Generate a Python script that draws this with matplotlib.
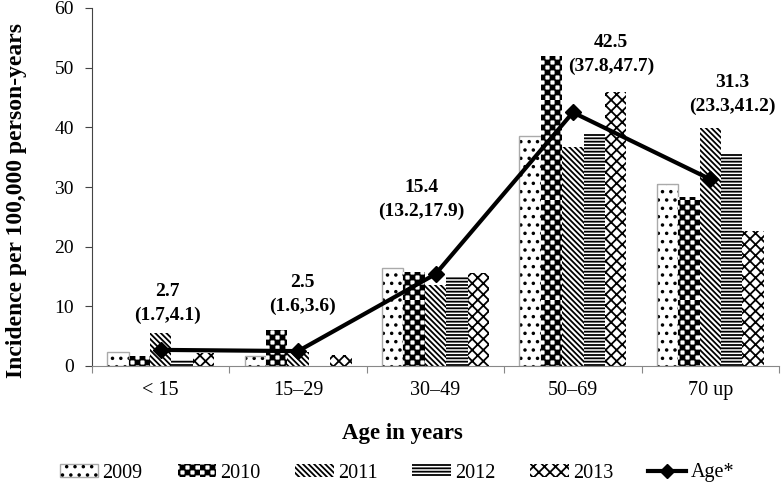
import warnings
import numpy as np
import matplotlib
matplotlib.use('Agg')
import matplotlib.pyplot as plt
import matplotlib.hatch as mhatch
from matplotlib.path import Path
from matplotlib.patches import Patch
from matplotlib.lines import Line2D

warnings.filterwarnings('ignore')

# 데이터
age_groups = ['< 15', '15–29', '30–49', '50–69', '70 up']
years = ['2009', '2010', '2011', '2012', '2013']
inc_2009 = [2.3, 1.6, 16.4, 38.6, 30.5]
inc_2010 = [1.7, 6.0, 15.8, 52.0, 28.4]
inc_2011 = [5.5, 2.3, 13.5, 36.7, 39.9]
inc_2012 = [1.0, 0.0, 15.0, 39.0, 35.5]
inc_2013 = [2.1, 1.8, 15.6, 46.0, 22.7]
age_rate = [2.7, 2.5, 15.4, 42.5, 31.3]
age_ci = ['(1.7,4.1)', '(1.6,3.6)', '(13.2,17.9)', '(37.8,47.7)', '(23.3,41.2)']
# label offsets (x in categories, y in rate units) relative to each point
lab_dx = [0.05, 0.03, -0.10, 0.28, 0.16]
lab_dy = [9.8, 11.5, 14.6, 11.7, 16.2]


# checkerboard hatch ('c')
class Checker(mhatch.HatchPatternBase):
    def __init__(self, hatch, density):
        self.n = 20 if (hatch and 'c' in hatch) else 0
        self.num_vertices = (self.n * self.n // 2) * 5

    def set_vertices_and_codes(self, vertices, codes):
        s = 1.0 / self.n
        e = s * 0.1
        sq = np.array([[e, e], [s - e, e], [s - e, s - e], [e, s - e], [e, e]])
        cd = [Path.MOVETO, Path.LINETO, Path.LINETO, Path.LINETO, Path.CLOSEPOLY]
        k = 0
        for i in range(self.n):
            for j in range(self.n):
                if (i + j) % 2 == 0:
                    vertices[k:k + 5] = sq + [i * s, j * s]
                    codes[k:k + 5] = cd
                    k += 5


mhatch._hatch_types.append(Checker)

plt.rcParams['font.family'] = ['Liberation Serif', 'DejaVu Serif']
plt.rcParams['hatch.linewidth'] = 1.3

fig = plt.figure(figsize=(7.82, 4.83), dpi=100)
ax = fig.add_axes([92 / 782, 1 - 366 / 483, 687 / 782, 358 / 483])

x = np.arange(len(age_groups))
w = 0.156
series = [inc_2009, inc_2010, inc_2011, inc_2012, inc_2013]
hatches = ['..', 'c', '\\' * 6, '-' * 5, 'xxx']

for k, (vals, h) in enumerate(zip(series, hatches)):
    pos = x + (k - 2) * w
    ax.bar(pos, vals, w, color='white', edgecolor='black', linewidth=0, hatch=h)
    if k == 0:
        ax.bar(pos, vals, w, fill=False, edgecolor='#aaaaaa', linewidth=1.0)

ax.plot(x, age_rate, color='black', lw=3, marker='D', ms=8, zorder=5)

for i in range(len(x)):
    ax.text(x[i] + lab_dx[i], age_rate[i] + lab_dy[i], f'{age_rate[i]}',
            ha='center', va='center', fontsize=14, fontweight='bold')
    ax.text(x[i] + lab_dx[i], age_rate[i] + lab_dy[i] - 4.0, age_ci[i],
            ha='center', va='center', fontsize=14, fontweight='bold')

ax.set_xlim(-0.5, 4.5)
ax.set_ylim(0, 60)
ax.set_yticks(range(0, 61, 10))
ax.set_xticks(np.arange(-0.5, 5, 1))
ax.set_xticklabels([])
ax.set_xticks(x, minor=True)
ax.set_xticklabels(age_groups, minor=True, fontsize=14.5)
ax.tick_params(axis='x', which='minor', length=0, pad=11)
ax.tick_params(axis='x', which='major', length=5, color='#888888', direction='out')
ax.tick_params(axis='y', length=5, pad=8, labelsize=14, color='#444444')

for sp in ['top', 'right']:
    ax.spines[sp].set_visible(False)
ax.spines['bottom'].set_color('#888888')
ax.spines['left'].set_color('#444444')

fig.text(17 / 782, 1 - 200 / 483, 'Incidence per 100,000 person-years',
         rotation=90, ha='center', va='center', fontsize=17, fontweight='bold')
fig.text(402 / 782, 1 - 433 / 483, 'Age in years',
         ha='center', va='center', fontsize=16.5, fontweight='bold')

handles = [
    (Patch(facecolor='white', edgecolor='#aaaaaa', lw=1.0),
     Patch(facecolor='none', edgecolor='black', lw=0, hatch='..')),
    Patch(facecolor='white', edgecolor='black', lw=0, hatch='c'),
    Patch(facecolor='white', edgecolor='black', lw=0, hatch='\\' * 6),
    Patch(facecolor='white', edgecolor='black', lw=0, hatch='-' * 5),
    Patch(facecolor='white', edgecolor='black', lw=0, hatch='xxx'),
    Line2D([], [], color='black', lw=3, marker='D', ms=7),
]
labels = years + ['Age*']
fig.legend(handles, labels, loc='center', bbox_to_anchor=(397 / 782, 1 - 473 / 483),
           ncol=6, frameon=False, fontsize=14.5, handlelength=1.9,
           handletextpad=0.2, columnspacing=1.75, handleheight=0.6)

fig.savefig('out.png', dpi=100)
